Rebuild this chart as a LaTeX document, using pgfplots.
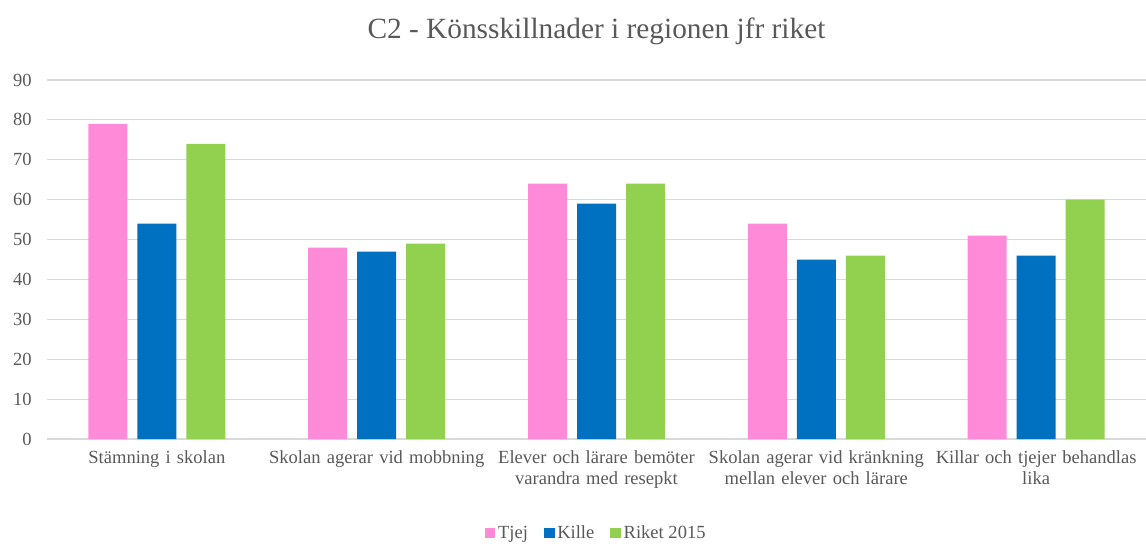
\documentclass[border=0pt]{standalone}
\usepackage{pgfplots}
\pgfplotsset{compat=1.18}
\usepackage{fontspec}
\setmainfont{Liberation Serif}
\definecolor{cpink}{HTML}{FF8AD8}
\definecolor{cblue}{HTML}{0070C0}
\definecolor{cgreen}{HTML}{92D050}
\definecolor{tgrey}{HTML}{595959}
\definecolor{ggrey}{HTML}{D9D9D9}
\begin{document}
\begin{tikzpicture}
\path[use as bounding box] (0,0) rectangle (859.5pt,407.25pt);
\begin{axis}[
  at={(35.25pt,78pt)}, anchor=south west,
  scale only axis, width=824.25pt, height=269.25pt,
  xmin=-0.5, xmax=4.5, ymin=0, ymax=90,
  ytick={0,10,...,90},
  xtick={0,1,2,3,4},
  xticklabels={Stämning i skolan, Skolan agerar vid mobbning, Elever och lärare bemöter\\varandra med resepkt, Skolan agerar vid kränkning\\mellan elever och lärare, Killar och tjejer behandlas\\lika},
  xticklabel style={align=center, text width=220pt, font=\fontsize{13.9}{16.3}\selectfont, text=tgrey, yshift=-5pt},
  yticklabel style={font=\fontsize{13.9}{15.8}\selectfont, text=tgrey, xshift=-8pt},
  /pgf/number format/assume math mode=true,
  ymajorgrids, grid style={ggrey, line width=0.9pt},
  axis x line*=bottom, axis y line*=left,
  x axis line style={ggrey, line width=0.9pt, -},
  y axis line style={draw=none},
  major tick length=0pt,
  ybar, bar width=29.25pt,
  title={C2 - Könsskillnader i regionen jfr riket},
  title style={font=\fontsize{22}{25}\selectfont, text=tgrey, at={(0.5,1)}, yshift=17pt},
  legend style={at={(0.5,-0.262)}, anchor=center, draw=none, legend columns=3,
    font=\fontsize{13.9}{15.8}\selectfont, text=tgrey,
    /tikz/every even column/.append style={column sep=10pt}},
  legend image code/.code={\fill[#1] (0pt,-4pt) rectangle (8pt,4pt);},
]
\addplot[fill=cpink, draw=none, bar shift=-36.75pt] coordinates {(0,79) (1,48) (2,64) (3,54) (4,51)};
\addplot[fill=cblue, draw=none, bar shift=0pt] coordinates {(0,54) (1,47) (2,59) (3,45) (4,46)};
\addplot[fill=cgreen, draw=none, bar shift=36.75pt] coordinates {(0,74) (1,49) (2,64) (3,46) (4,60)};
\legend{Tjej, Kille, Riket 2015}
\end{axis}
\end{tikzpicture}
\end{document}
